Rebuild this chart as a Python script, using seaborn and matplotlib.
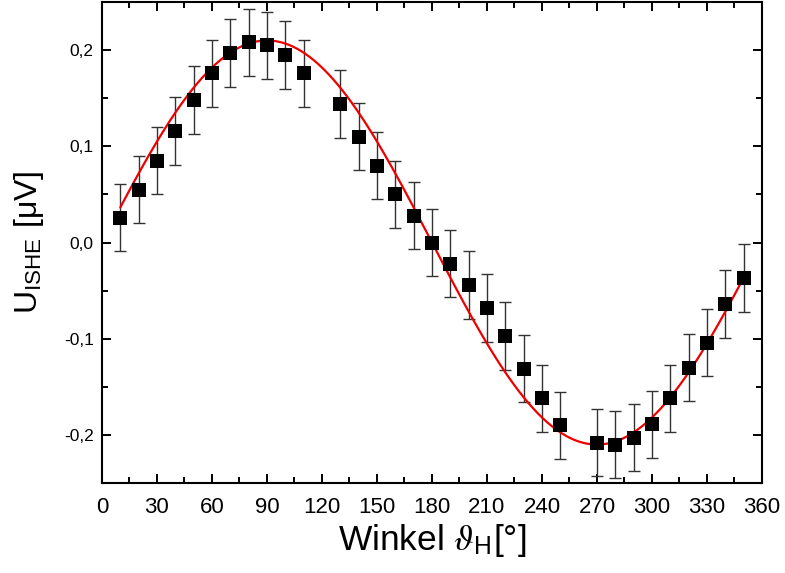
import numpy as np
import pandas as pd
import matplotlib
matplotlib.use("Agg")
import matplotlib.pyplot as plt
import seaborn as sns

# ---- data ----
angle = [10, 20, 30, 40, 50, 60, 70, 80, 90, 100, 110, 130, 140, 150, 160, 170,
         180, 190, 200, 210, 220, 230, 240, 250, 270, 280, 290, 300, 310, 320,
         330, 340, 350]
u_ishe = [0.026, 0.055, 0.085, 0.116, 0.148, 0.176, 0.197, 0.208, 0.205, 0.195,
          0.176, 0.144, 0.110, 0.080, 0.050, 0.028, 0.000, -0.022, -0.044,
          -0.068, -0.097, -0.131, -0.162, -0.190, -0.208, -0.210, -0.203,
          -0.189, -0.162, -0.130, -0.104, -0.064, -0.037]
u_err = [0.035] * len(angle)

# fit parameters (sinusoidal fit drawn in red)
fit_amplitude = 0.21
fit_phase_deg = 0.0
fit_range = [10, 350]

x_ticks = [0, 30, 60, 90, 120, 150, 180, 210, 240, 270, 300, 330, 360]
y_ticks = [-0.2, -0.1, 0.0, 0.1, 0.2]
y_tick_labels = ["-0,2", "-0,1", "0,0", "0,1", "0,2"]

df = pd.DataFrame({"angle": angle, "u": u_ishe, "err": u_err})
fit_x = np.linspace(fit_range[0], fit_range[1], 400)
fit_df = pd.DataFrame({"angle": fit_x,
                       "u": fit_amplitude * np.sin(np.deg2rad(fit_x + fit_phase_deg))})

sns.set_style("ticks")
plt.rcParams["font.family"] = ["Liberation Sans", "DejaVu Sans"]
plt.rcParams["mathtext.fontset"] = "custom"
plt.rcParams["mathtext.rm"] = "Liberation Sans"
plt.rcParams["mathtext.it"] = "STIXGeneral:italic"
plt.rcParams["text.color"] = "black"
plt.rcParams["axes.labelcolor"] = "black"
plt.rcParams["xtick.color"] = "black"
plt.rcParams["ytick.color"] = "black"

fig = plt.figure(figsize=(7.85, 5.73), dpi=100)
ax = fig.add_axes([0.1299, 0.157, 0.8408, 0.8395])

ax.errorbar(df["angle"], df["u"], yerr=df["err"], fmt="none",
            ecolor="#333333", elinewidth=1.0, capsize=4, capthick=1.0, zorder=2)
sns.lineplot(data=fit_df, x="angle", y="u", color="#ee0000", linewidth=1.6,
             ax=ax, zorder=3)
sns.scatterplot(data=df, x="angle", y="u", marker="s", s=95, color="black",
                edgecolor="black", linewidth=0, ax=ax, zorder=4)

ax.set_xlim(0, 360)
ax.set_ylim(-0.25, 0.25)
ax.set_xticks(x_ticks)
ax.set_xticks(np.arange(15, 360, 30), minor=True)
ax.set_yticks(y_ticks)
ax.set_yticks([-0.15, -0.05, 0.05, 0.15], minor=True)
ax.set_yticklabels(y_tick_labels)
ax.set_xticklabels([str(t) for t in x_ticks])

for lab in ax.get_xticklabels():
    lab.set_fontsize(16)
for lab in ax.get_yticklabels():
    lab.set_fontsize(12.5)

ax.tick_params(which="both", direction="in", top=True, right=True,
               width=1.4, color="black")
ax.tick_params(which="major", length=6.5, pad=6)
ax.tick_params(axis="x", which="major", pad=10)
ax.tick_params(which="minor", length=4)
for sp in ax.spines.values():
    sp.set_linewidth(1.5)
    sp.set_color("black")

ax.set_xlabel(r"Winkel $\vartheta_{\mathregular{H}}$[°]", fontsize=25.5, labelpad=3)
ax.set_ylabel(r"U$_{\mathregular{ISHE}}$ [μV]", fontsize=23, labelpad=13)

fig.savefig("out.png", dpi=100)
